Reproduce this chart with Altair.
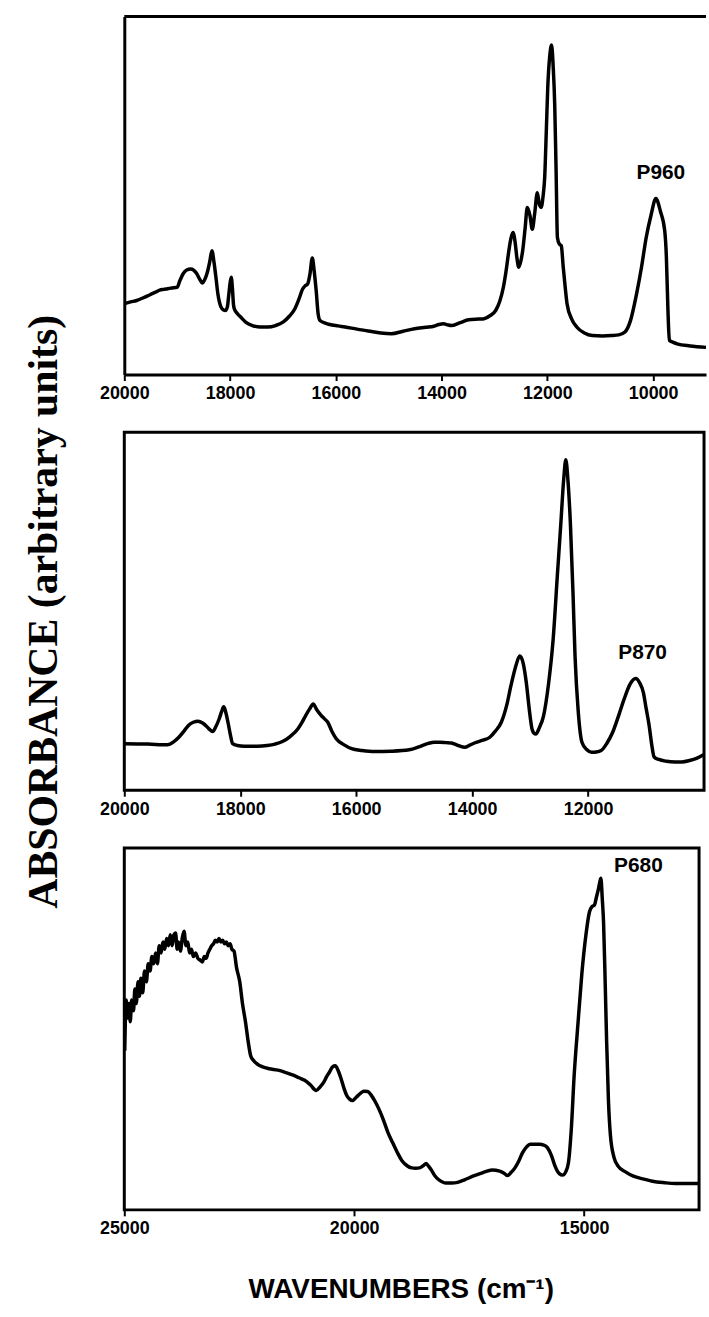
import altair as alt
import pandas as pd

# ---------------- data ----------------
# Panel 1 : P960
p960_wn = [20000, 19880, 19766, 19650, 19560, 19474, 19400, 19330, 19250, 19182, 19100, 19000,
           18950, 18890, 18820, 18745, 18690, 18635, 18580, 18526, 18480, 18431, 18385, 18343,
           18305, 18270, 18230, 18175, 18120, 18088, 18050, 18029, 18000, 17978, 17955, 17935,
           17920, 17860, 17796, 17700, 17577, 17430, 17285, 17140, 16993, 16880, 16774, 16700,
           16628, 16580, 16533, 16490, 16445, 16410, 16372, 16335, 16299, 16200, 16117, 15960,
           15825, 15600, 15387, 15150, 14949, 14730, 14511, 14300, 14146, 14050, 13964, 13890,
           13818, 13650, 13489, 13300, 13197, 13080, 12978, 12900, 12832, 12780, 12737, 12690,
           12650, 12610, 12575, 12540, 12505, 12467, 12420, 12380, 12330, 12285, 12240, 12190,
           12150, 12117, 12080, 12051, 12020, 11993, 11955, 11920, 11890, 11861, 11835, 11810,
           11775, 11737, 11700, 11660, 11628, 11540, 11445, 11300, 11153, 10960, 10788, 10650,
           10533, 10430, 10314, 10220, 10131, 10040, 9949, 9860, 9781, 9750, 9720, 9693,
           9620, 9547, 9300, 9000]
p960_abs = [19.8, 20.3, 20.7, 21.4, 22.0, 22.6, 23.1, 23.6, 23.8, 24.0, 24.2, 24.4,
            26.2, 28.1, 29.2, 29.5, 29.2, 28.3, 26.8, 25.6, 26.5, 28.5, 31.5, 34.6,
            31.5, 27.5, 22.5, 19.0, 18.0, 17.9, 19.0, 21.6, 25.5, 27.2, 24.0, 19.5,
            18.4, 17.0, 16.0, 14.6, 13.7, 13.3, 13.3, 13.7, 14.7, 16.3, 18.4, 21.0,
            23.9, 24.8, 25.3, 28.0, 32.6, 29.0, 23.5, 17.0, 15.1, 14.4, 14.0, 13.6,
            13.3, 12.7, 12.2, 11.6, 11.4, 12.1, 12.8, 13.2, 13.5, 14.0, 14.2, 13.9,
            13.7, 14.5, 15.3, 15.5, 15.6, 16.5, 17.9, 20.5, 24.4, 29.0, 33.7, 38.0,
            39.7, 37.0, 32.5, 30.0, 31.5, 34.6, 41.0, 46.7, 44.5, 40.6, 45.0, 50.8,
            47.5, 46.7, 50.0, 55.0, 68.0, 80.1, 89.0, 92.1, 86.0, 75.4, 57.0, 38.3,
            36.5, 36.0, 30.0, 24.0, 19.8, 15.5, 13.3, 11.6, 10.9, 10.8, 10.9, 11.1,
            11.9, 15.0, 22.5, 30.0, 38.3, 44.5, 49.2, 45.5, 40.2, 33.0, 18.0, 9.6,
            9.0, 8.6, 8.0, 7.6]

# Panel 2 : P870
p870_wn = [20000, 19600, 19258, 19150, 19060, 18970, 18894, 18810, 18728, 18650, 18583, 18530,
           18477, 18420, 18364, 18320, 18285, 18250, 18212, 18170, 18132, 18050, 17934, 17700,
           17536, 17400, 17272, 17140, 17007, 16940, 16874, 16800, 16742, 16680, 16609, 16550,
           16490, 16420, 16344, 16200, 16079, 15900, 15682, 15400, 15086, 14920, 14755, 14650,
           14556, 14450, 14358, 14240, 14126, 14040, 13960, 13830, 13695, 13600, 13497, 13400,
           13331, 13250, 13179, 13120, 13066, 13010, 12967, 12930, 12901, 12840, 12768, 12680,
           12603, 12530, 12470, 12420, 12384, 12345, 12305, 12260, 12225, 12170, 12106, 12020,
           11940, 11860, 11775, 11680, 11576, 11470, 11377, 11280, 11179, 11110, 11046, 11000,
           10947, 10900, 10861, 10780, 10649, 10500, 10384, 10250, 10119, 10000]
p870_abs = [13.0, 12.9, 12.7, 13.5, 14.8, 16.5, 18.1, 19.0, 19.3, 18.8, 17.9, 17.0,
            16.4, 17.8, 19.9, 22.0, 23.3, 21.8, 19.0, 15.5, 13.0, 12.5, 12.3, 12.3,
            12.5, 12.9, 13.6, 15.0, 17.1, 18.8, 20.8, 22.8, 24.1, 22.5, 21.0, 20.0,
            19.0, 16.5, 14.4, 12.6, 11.6, 11.1, 10.8, 10.9, 11.3, 12.1, 13.1, 13.4,
            13.4, 13.3, 13.2, 12.5, 12.0, 12.6, 13.2, 13.9, 14.8, 16.5, 19.0, 24.0,
            29.2, 34.5, 37.5, 35.5, 30.1, 22.0, 17.1, 15.9, 15.7, 17.5, 20.8, 30.0,
            42.1, 60.0, 74.5, 87.0, 92.3, 86.0, 74.5, 55.0, 37.5, 22.0, 13.4, 11.3,
            10.6, 10.7, 11.1, 13.0, 16.2, 21.0, 25.5, 29.5, 31.2, 30.0, 27.3, 23.0,
            18.1, 12.5, 9.3, 8.6, 8.1, 7.9, 7.9, 8.3, 9.0, 10.0]

# Panel 3 : P680
p680_wn = [24990, 24960, 24930, 24900, 24870, 24840, 24800, 24770, 24740, 24700, 24670, 24640,
           24600, 24560, 24520, 24480, 24440, 24400, 24360, 24320, 24280, 24240, 24200, 24160,
           24120, 24080, 24040, 24000, 23960, 23920, 23886, 23850, 23820, 23780, 23740, 23700,
           23660, 23620, 23580, 23540, 23500, 23450, 23400, 23350, 23300, 23260, 23220, 23180,
           23140, 23100, 23060, 23020, 22980, 22940, 22900, 22860, 22820, 22780, 22740, 22700,
           22660, 22614, 22560, 22489, 22430, 22365, 22300, 22250, 22198, 22100, 21991, 21850,
           21658, 21500, 21326, 21200, 21077, 20950, 20827, 20740, 20661, 20600, 20536, 20470,
           20411, 20350, 20287, 20220, 20162, 20100, 20037, 19950, 19871, 19790, 19705, 19620,
           19539, 19450, 19372, 19270, 19165, 19060, 18957, 18850, 18749, 18660, 18583, 18500,
           18433, 18380, 18333, 18250, 18167, 18080, 18001, 17880, 17751, 17600, 17419, 17200,
           17003, 16837, 16750, 16671, 16590, 16504, 16420, 16338, 16250, 16172, 15964, 15880,
           15798, 15710, 15632, 15540, 15466, 15400, 15341, 15280, 15216, 15130, 15050, 14960,
           14884, 14830, 14776, 14730, 14693, 14660, 14635, 14605, 14576, 14540, 14510, 14470,
           14427, 14350, 14261, 14100, 13928, 13700, 13513, 13250, 13014, 12750, 12500]
p680_abs = [44.0, 58.0, 53.0, 57.0, 52.0, 58.0, 55.0, 61.0, 57.0, 63.0, 59.0, 64.0,
            60.0, 66.0, 63.0, 68.0, 66.0, 70.0, 68.0, 71.0, 68.0, 73.0, 71.0, 74.0,
            72.0, 75.0, 73.0, 76.0, 73.0, 76.0, 76.5, 72.0, 74.0, 71.5, 75.0, 77.0,
            73.0, 74.0, 71.0, 72.0, 70.0, 71.0, 69.5, 69.0, 68.5, 70.0, 69.5, 71.0,
            72.0, 73.0, 73.5, 74.5, 74.0, 75.0, 74.0, 74.5, 73.5, 74.0, 73.0, 73.5,
            72.0, 71.5, 67.0, 63.0, 57.0, 52.0, 46.0, 42.5, 41.4, 40.2, 39.5, 39.0,
            38.6, 38.0, 37.2, 36.5, 35.8, 34.5, 33.0, 34.0, 35.3, 36.8, 38.1, 39.5,
            39.8, 38.5, 36.3, 33.5, 31.6, 30.6, 30.2, 31.2, 32.1, 32.8, 32.7, 31.5,
            29.8, 27.5, 25.1, 21.5, 18.6, 15.8, 13.5, 12.2, 11.6, 11.5, 11.6, 12.2,
            12.8, 12.0, 11.2, 9.5, 8.4, 7.7, 7.4, 7.4, 7.6, 8.3, 9.3, 10.3,
            11.0, 10.7, 10.2, 9.5, 10.3, 11.6, 13.5, 15.8, 17.4, 18.1, 18.1, 17.9,
            17.2, 15.0, 12.1, 10.0, 9.6, 10.5, 13.0, 22.0, 37.2, 52.0, 65.1, 76.0,
            82.3, 83.8, 84.2, 86.5, 88.4, 90.5, 91.6, 86.0, 79.1, 62.0, 46.5, 30.0,
            20.5, 14.5, 12.1, 10.5, 9.3, 8.5, 7.9, 7.5, 7.3, 7.3, 7.3]

# labels
label_text = ["P960", "P870", "P680"]
label_wn = [9854, 11060, 13820]
label_abs = [56.4, 38.4, 94.9]

ticks1 = [20000, 18000, 16000, 14000, 12000, 10000]
ticks2 = [20000, 18000, 16000, 14000, 12000]
ticks3 = [25000, 20000, 15000]

y_title = "ABSORBANCE (arbitrary units)"
x_title = "WAVENUMBERS (cm\u207b\u00b9)"

# ---------------- styling ----------------
SANS = "Liberation Sans"
SERIF = "Liberation Serif"
LW = 3.5

W1, W2, W3 = 585, 583, 578
H1, H2, H3 = 360, 360, 364


def xaxis(values, **extra):
    kw = dict(values=values, format="d", labelFont=SANS, labelFontWeight="bold",
              labelFontSize=18, labelColor="black", labelPadding=4, labelFlush=False,
              labelOverlap=False, tickColor="black", tickSize=6, tickWidth=2,
              grid=False, domain=False, title=None)
    kw.update(extra)
    return alt.Axis(**kw)


def yaxis(**extra):
    kw = dict(labels=False, ticks=False, grid=False, domain=False, title=None)
    kw.update(extra)
    return alt.Axis(**kw)


def panel(wn, ab, idx, domain, width, height, xax, yax, view=None):
    df = pd.DataFrame({"wn": wn, "abs": ab})
    lab = pd.DataFrame({"wn": [label_wn[idx]], "abs": [label_abs[idx]], "t": [label_text[idx]]})
    xs = alt.Scale(domain=domain, nice=False, zero=False)
    ys = alt.Scale(domain=[0, 100], nice=False, zero=False)
    line = alt.Chart(df).mark_line(color="black", strokeWidth=LW, interpolate="monotone",
                                   strokeJoin="round", clip=True).encode(
        x=alt.X("wn:Q", scale=xs, axis=xax),
        y=alt.Y("abs:Q", scale=ys, axis=yax),
    )
    txt = alt.Chart(lab).mark_text(font=SANS, fontWeight="bold", fontSize=21, color="black",
                                   align="center", baseline="middle").encode(
        x=alt.X("wn:Q", scale=xs), y=alt.Y("abs:Q", scale=ys), text="t:N")
    layers = [line, txt]
    props = dict(width=width, height=height)
    if view is not None:
        top = alt.Chart(pd.DataFrame({"k": [0]})).mark_rule(color="black", strokeWidth=3).encode(
            x=alt.value(0), x2=alt.value(width), y=alt.value(0))
        layers.append(top)
        props["view"] = view
    return alt.layer(*layers).properties(**props)


p1 = panel(p960_wn, p960_abs, 0, [20000, 9000], W1, H1,
           xaxis(ticks1, domain=True, domainColor="black", domainWidth=3),
           yaxis(domain=True, domainColor="black", domainWidth=3),
           view=alt.ViewBackground(stroke="transparent"))
p2 = panel(p870_wn, p870_abs, 1, [20000, 10000], W2, H2,
           xaxis(ticks2),
           yaxis(title=y_title, titleFont=SERIF, titleFontSize=42, titleFontWeight="bold",
                 titleColor="black", titlePadding=59))
p3 = panel(p680_wn, p680_abs, 2, [25000, 12500], W3, H3,
           xaxis(ticks3, title=x_title, titleFont=SANS, titleFontSize=28, titleFontWeight="bold",
                 titleColor="black", titlePadding=38, titleX=278),
           yaxis())

chart = alt.vconcat(p1, p2, p3, spacing=58, bounds="flush").properties(
    padding={"left": 21, "top": 10, "right": 0, "bottom": 4}
).configure(background="white").configure_view(stroke="black", strokeWidth=3)

chart.save("out.html", embed_options={"renderer": "svg", "actions": False})
